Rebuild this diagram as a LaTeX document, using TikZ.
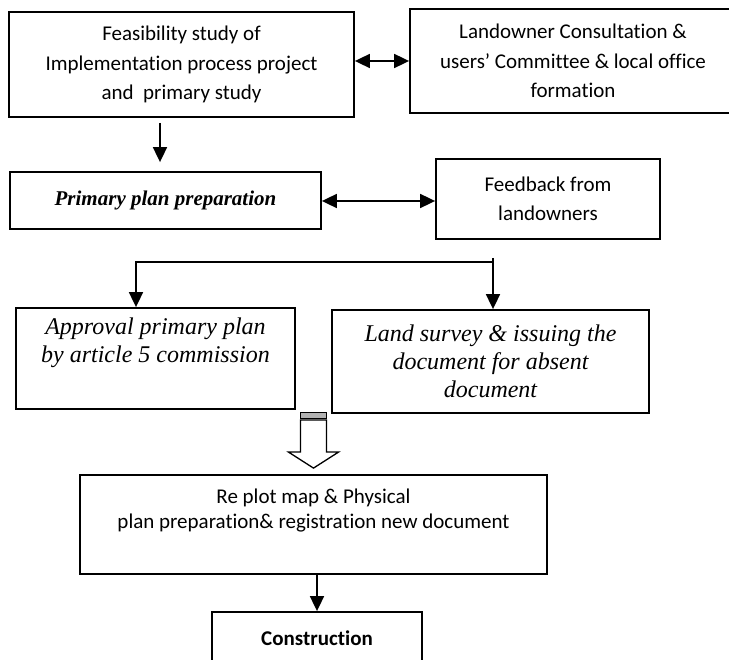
\documentclass[tikz,border=0pt]{standalone}
\usepackage{fontspec}
\setmainfont{Carlito}[Ligatures=NoCommon]
\newfontfamily\tnr{Liberation Serif}
\usetikzlibrary{arrows.meta}
\tikzset{every path/.style={line width=1.8pt}}
\tikzset{>={Triangle[length=15pt,width=14pt]}}
\tikzset{box/.style={draw,align=center,inner sep=0pt,font=\fontsize{21}{29.5}\selectfont},
ibox/.style={box,font=\tnr\itshape\fontsize{24}{28}\selectfont}}

\begin{document}
\begin{tikzpicture}[x=1pt,y=-1pt]
\useasboundingbox (0,0) rectangle (729,660);

\node[box,minimum width=345pt,minimum height=105pt] (fs) at (181.5,64.5) {Feasibility study of\\Implementation process project\\and\ \ primary study};
\node[box,minimum width=326pt,minimum height=104pt] (lo) at (573,61) {Landowner Consultation \&\\users' Committee \& local office\\formation};
\node[box,minimum width=311pt,minimum height=57pt,font=\tnr\bfseries\itshape\fontsize{21}{25}\selectfont] (pp) at (165.5,200.5) {Primary plan preparation};
\node[box,minimum width=224pt,minimum height=80pt] (fb) at (548,199) {Feedback from\\landowners};
\node[ibox,minimum width=279pt,minimum height=101pt] (ap) at (155.5,358.5) {Approval primary plan\\by article 5 commission\\ \strut};
\node[ibox,minimum width=317pt,minimum height=103pt] (ls) at (490.5,361.5) {Land survey \& issuing the\\document for absent\\document};
\node[box,minimum width=467pt,minimum height=99pt,font=\fontsize{21}{25}\selectfont] (rp) at (313.5,524.5) {Re plot map \& Physical\\plan preparation\& registration new document\\ \strut};
\node[box,minimum width=210pt,minimum height=52pt,font=\bfseries\fontsize{21}{25}\selectfont] (co) at (317,638) {Construction};
\coordinate (sp) at (493,258);
\coordinate (ht) at ([yshift=6pt]rp.north);

\draw[<->] (fs.east |- lo.west) -- (lo.west);
\draw[->,shorten <=5pt,shorten >=9pt] ([xshift=-21.5pt]fs.south) -- ([xshift=-21.5pt]fs.south |- pp.north);
\draw[<->] ([yshift=-0.5pt]pp.east) -- ([yshift=-0.5pt]pp.east -| fb.west);
\draw[->] (sp) -- (sp |- ls.north);
\draw[->] ([yshift=-4pt]sp) -| ([xshift=-19.5pt]ap.north);
\draw[line width=1.3pt] (ht) -- ++(25,-16) -- ++(-12,0) -- ++(0,-32) -- ++(-26,0) -- ++(0,32) -- ++(-12,0) -- cycle;
\draw[fill=gray!60,line width=1pt] (ht) ++(-13,-56) rectangle ++(26,6);
\draw[->] (rp.south -| co.north) -- (co.north);
\end{tikzpicture}
\end{document}
